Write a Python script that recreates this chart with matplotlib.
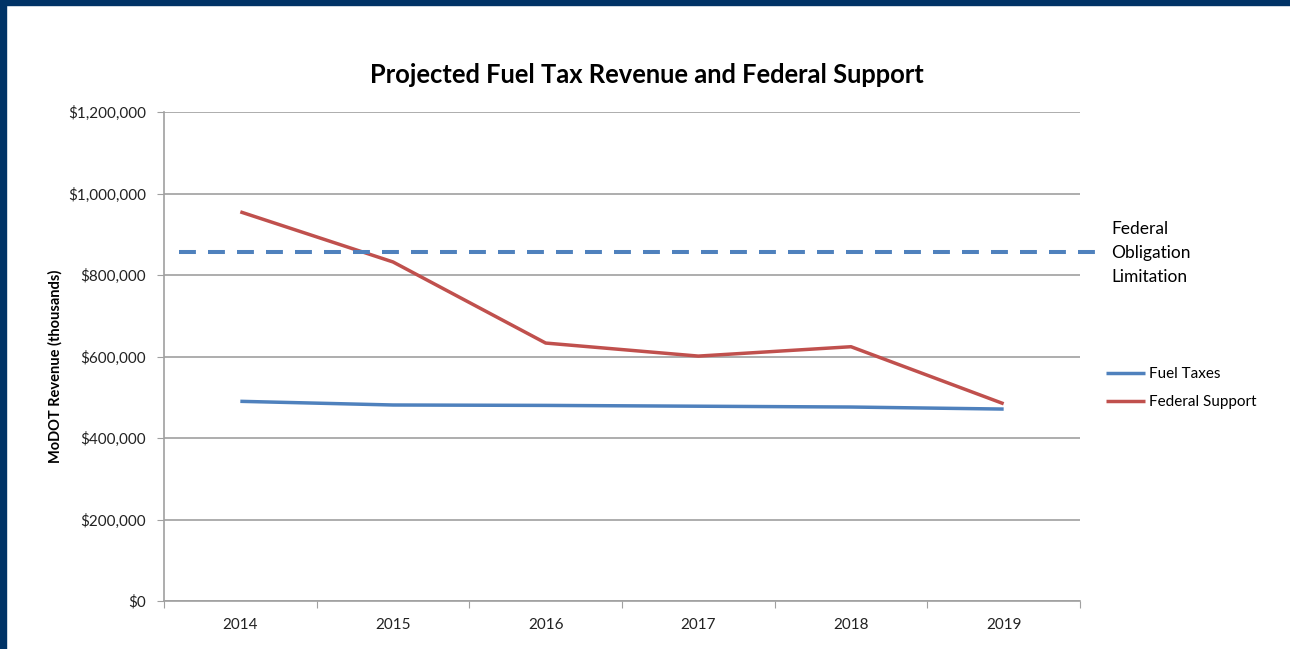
import matplotlib
matplotlib.use('Agg')
import matplotlib.pyplot as plt
from matplotlib.patches import Rectangle

years = ['2014', '2015', '2016', '2017', '2018', '2019']
fuel_taxes = [490000, 481000, 480000, 478000, 476000, 471000]
federal_support = [955000, 832000, 633000, 601000, 624000, 484000]
obligation_limit = 856000
y_ticks = [0, 200000, 400000, 600000, 800000, 1000000, 1200000]

plt.rcParams['font.family'] = ['Lato', 'DejaVu Sans']

fig = plt.figure(figsize=(12.9, 6.49), dpi=100)
W, H = 1290, 649
ax = fig.add_axes([164 / W, 1 - 601 / H, (1080 - 164) / W, (601 - 112) / H])

x = list(range(len(years)))
ax.plot(x, fuel_taxes, color='#4F81BD', lw=2.5, solid_capstyle='butt', label='Fuel Taxes')
ax.plot(x, federal_support, color='#C0504D', lw=2.5, solid_capstyle='butt', label='Federal Support')
ax.plot([-0.4, 5.62], [obligation_limit, obligation_limit], color='#4F81BD',
        lw=2.9, dashes=(4.2, 3.0), clip_on=False)

ax.set_xlim(-0.5, 5.5)
ax.set_ylim(0, 1200000)
ax.set_yticks(y_ticks)
ax.set_yticklabels(['$' + format(v, ',') for v in y_ticks], fontsize=11, color='#222222')
ax.set_xticks([i - 0.5 for i in range(len(years) + 1)])
ax.set_xticklabels([])
ax.set_xticks(x, minor=True)
ax.set_xticklabels(years, minor=True, fontsize=11, color='#222222')
ax.tick_params(axis='x', which='minor', length=0, pad=12)
ax.tick_params(axis='x', which='major', length=5, color='#A0A0A0', direction='out')
ax.tick_params(axis='y', length=5, color='#A0A0A0', direction='out', pad=8)
ax.grid(axis='y', color='#A0A0A0', lw=1.2)
ax.set_axisbelow(True)
for s in ['top', 'right']:
    ax.spines[s].set_visible(False)
for s in ['left', 'bottom']:
    ax.spines[s].set_color('#A0A0A0')
    ax.spines[s].set_linewidth(1.2)

ax.set_ylabel('MoDOT Revenue (thousands)', fontsize=10.5, fontweight='bold')
ax.yaxis.set_label_coords(63 / W, 1 - 366 / H, transform=fig.transFigure)
fig.text(647 / W, 1 - 75 / H, 'Projected Fuel Tax Revenue and Federal Support',
         ha='center', va='center', fontsize=18.4, fontweight='bold')

fig.text(1111 / W, 1 - 253 / H, 'Federal\nObligation\nLimitation', ha='left', va='center',
         fontsize=12.5, linespacing=1.6)

ax.legend(loc='center left', bbox_to_anchor=(1092 / W, 1 - 388 / H), bbox_transform=fig.transFigure,
          frameon=False, fontsize=11, handlelength=2.6, handletextpad=0.2, labelspacing=0.9)

fig.patches.append(Rectangle((0, 1 - 5 / H), 1, 5 / H, transform=fig.transFigure,
                             color='#003366', zorder=10))
fig.patches.append(Rectangle((0, 0), 6 / W, 1, transform=fig.transFigure,
                             color='#003366', zorder=10))

fig.savefig('out.png', dpi=100)
